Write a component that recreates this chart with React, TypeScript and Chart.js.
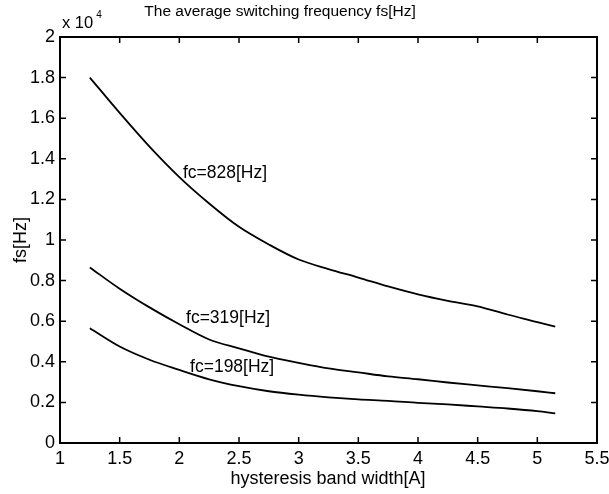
import React, { useEffect, useRef } from "react";
import { Chart, registerables } from "chart.js";

Chart.register(...registerables);

// x: hysteresis band width [A]
const bandWidth = [1.25, 1.5, 1.75, 2.0, 2.25, 2.5, 2.75, 3.0, 3.25, 3.5, 3.75, 4.0, 4.25, 4.5, 4.75, 5.0, 5.15];
// fs [Hz]
const fs828 = [18000, 16260, 14600, 13100, 11800, 10650, 9780, 9040, 8570, 8150, 7710, 7320, 7000, 6730, 6330, 5960, 5730];
const fs319 = [8650, 7600, 6680, 5850, 5100, 4660, 4250, 3950, 3680, 3480, 3280, 3140, 2980, 2840, 2700, 2550, 2450];
const fs198 = [5650, 4750, 4100, 3600, 3140, 2800, 2550, 2380, 2250, 2150, 2080, 1980, 1900, 1800, 1700, 1570, 1460];

const seriesLabels = ["fc=828[Hz]", "fc=319[Hz]", "fc=198[Hz]"];
const annotX = [2.03, 2.056, 2.09];
const annotY = [13300, 6160, 3740];

const chartTitle = "The average switching frequency fs[Hz]";
const xTitle = "hysteresis band width[A]";
const yTitle = "fs[Hz]";

const FONT = "'Liberation Sans', Arial, sans-serif";

const decorPlugin = {
  id: "decor",
  afterDraw(chart: any) {
    const ctx = chart.ctx;
    const { left, right, top, bottom } = chart.chartArea;
    const xs = chart.scales.x;
    const ys = chart.scales.y;
    ctx.save();
    ctx.strokeStyle = "#000";
    ctx.fillStyle = "#000";
    // box
    ctx.lineWidth = 2;
    ctx.strokeRect(left, top, right - left, bottom - top);
    // inward ticks
    ctx.lineWidth = 1.5;
    const tl = 6;
    xs.ticks.forEach((t: any) => {
      const px = xs.getPixelForValue(t.value);
      if (Math.abs(px - left) < 1 || Math.abs(px - right) < 1) return;
      ctx.beginPath();
      ctx.moveTo(px, bottom);
      ctx.lineTo(px, bottom - tl);
      ctx.moveTo(px, top);
      ctx.lineTo(px, top + tl);
      ctx.stroke();
    });
    ys.ticks.forEach((t: any) => {
      const py = ys.getPixelForValue(t.value);
      if (Math.abs(py - top) < 1 || Math.abs(py - bottom) < 1) return;
      ctx.beginPath();
      ctx.moveTo(left, py);
      ctx.lineTo(left + tl, py);
      ctx.moveTo(right, py);
      ctx.lineTo(right - tl, py);
      ctx.stroke();
    });
    // annotations
    ctx.font = `17.5px ${FONT}`;
    ctx.textAlign = "left";
    ctx.textBaseline = "middle";
    seriesLabels.forEach((s, i) => {
      ctx.fillText(s, xs.getPixelForValue(annotX[i]), ys.getPixelForValue(annotY[i]));
    });
    // title
    ctx.font = `15.5px ${FONT}`;
    ctx.textAlign = "center";
    ctx.textBaseline = "middle";
    ctx.fillText(chartTitle, 280, 12);
    // x title
    ctx.font = `18px ${FONT}`;
    ctx.fillText(xTitle, 328, 479);
    // y title
    ctx.save();
    ctx.translate(21, 240);
    ctx.rotate(-Math.PI / 2);
    ctx.fillText(yTitle, 0, 0);
    ctx.restore();
    // exponent
    ctx.textAlign = "left";
    ctx.textBaseline = "alphabetic";
    ctx.font = `16.5px ${FONT}`;
    ctx.fillText("x 10", 62, 28);
    const w = ctx.measureText("x 10").width;
    ctx.font = `10px ${FONT}`;
    ctx.fillText("4", 62 + w + 3, 18);
    ctx.restore();
  },
};

export default function App() {
  const ref = useRef<HTMLCanvasElement>(null);
  useEffect(() => {
    if (!ref.current) return;
    const mk = (data: number[]) => ({
      data: bandWidth.map((x, i) => ({ x, y: data[i] })),
      borderColor: "#000",
      backgroundColor: "#000",
      borderWidth: 1.8,
      pointRadius: 0,
      cubicInterpolationMode: "monotone" as const,
      fill: false,
    });
    const chart = new Chart(ref.current, {
      type: "line",
      data: {
        datasets: [
          { label: seriesLabels[0], ...mk(fs828) },
          { label: seriesLabels[1], ...mk(fs319) },
          { label: seriesLabels[2], ...mk(fs198) },
        ],
      },
      options: {
        animation: false,
        responsive: false,
        devicePixelRatio: 1,
        layout: { padding: { left: 0, right: 12, top: 37, bottom: 0 } },
        plugins: { legend: { display: false }, title: { display: false }, tooltip: { enabled: false } },
        scales: {
          x: {
            type: "linear",
            min: 1,
            max: 5.5,
            grid: { display: false, drawTicks: false },
            border: { display: false },
            ticks: {
              stepSize: 0.5,
              color: "#000",
              padding: 5,
              font: { family: FONT, size: 18 },
              maxRotation: 0,
              callback: (v: any) => String(Math.round(Number(v) * 10) / 10),
            },
            afterFit(scale: any) {
              scale.height = 51;
              scale.paddingLeft = 0;
              scale.paddingRight = 0;
            },
          },
          y: {
            type: "linear",
            min: 0,
            max: 20000,
            grid: { display: false, drawTicks: false },
            border: { display: false },
            ticks: {
              stepSize: 2000,
              color: "#000",
              padding: 5,
              font: { family: FONT, size: 18 },
              callback: (v: any) => String(Math.round(Number(v) / 1000) / 10),
            },
            afterFit(scale: any) {
              scale.width = 60;
              scale.paddingTop = 0;
              scale.paddingBottom = 0;
            },
          },
        },
      },
      plugins: [decorPlugin],
    });
    return () => chart.destroy();
  }, []);
  return (
    <div style={{ position: "fixed", left: 0, top: 0, width: 609, height: 494, background: "#fff" }}>
      <canvas ref={ref} width={609} height={494} />
    </div>
  );
}
